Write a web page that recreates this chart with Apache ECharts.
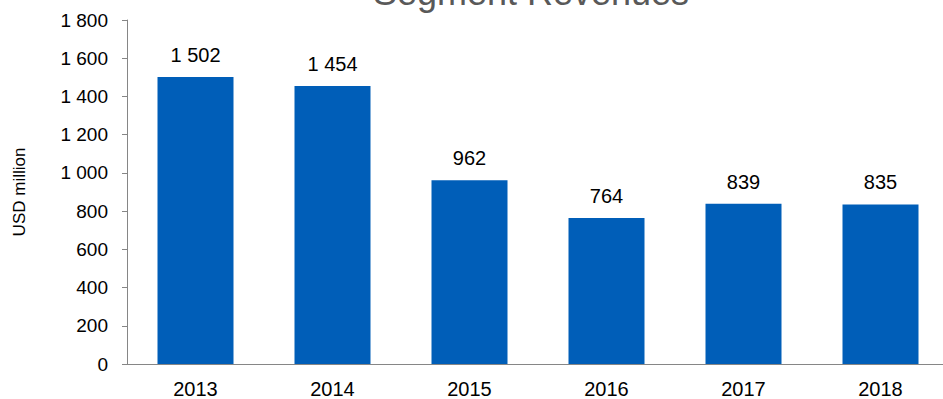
<!DOCTYPE html>
<html>
<head>
<meta charset="utf-8">
<title>Segment Revenues</title>
<script src="https://cdn.jsdelivr.net/npm/echarts@6/dist/echarts.min.js"></script>
<style>
  html, body { margin: 0; padding: 0; background: #ffffff; overflow: hidden; }
  /* canvas is a bit wider than the window so the last bar's band runs off the edge */
  #chart { width: 952px; height: 399px; }
</style>
</head>
<body>
<div id="chart"></div>
<script>
// Yearly segment revenues, USD million
const years = ['2013', '2014', '2015', '2016', '2017', '2018'];
const revenues = [1502, 1454, 962, 764, 839, 835];
const yTicks = { min: 0, max: 1800, step: 200 };

// thousands grouped with a space: 1 502
function fmt(v) {
  return String(v).replace(/\B(?=(\d{3})+(?!\d))/g, ' ');
}

const FONT = 'Liberation Sans, Arial, sans-serif';
const chart = echarts.init(document.getElementById('chart'), null, { renderer: 'svg' });

chart.setOption({
  animation: false,
  backgroundColor: '#ffffff',
  graphic: [{
    type: 'text',
    x: 531,
    y: 10,
    style: {
      text: 'Segment Revenues',
      fontFamily: FONT,
      fontSize: 36,
      fill: '#595959',
      textAlign: 'center',
      textVerticalAlign: 'bottom'
    }
  }],
  grid: { left: 127, width: 822, top: 20, height: 346 },
  xAxis: {
    type: 'category',
    data: years,
    axisLine: { lineStyle: { color: '#868686', width: 1 } },
    axisTick: { show: false },
    axisLabel: { color: '#000000', fontFamily: FONT, fontSize: 20, margin: 15 }
  },
  yAxis: {
    type: 'value',
    min: yTicks.min,
    max: yTicks.max,
    interval: yTicks.step,
    name: 'USD million',
    nameLocation: 'middle',
    nameRotate: 90,
    nameGap: 99,
    nameTextStyle: { color: '#000000', fontFamily: FONT, fontSize: 17 },
    axisLine: { show: true, lineStyle: { color: '#868686', width: 1 } },
    axisTick: { show: true, length: 5, lineStyle: { color: '#868686' } },
    splitLine: { show: false },
    axisLabel: {
      color: '#000000',
      fontFamily: FONT,
      fontSize: 19,
      margin: 19,
      formatter: fmt
    }
  },
  series: [{
    type: 'bar',
    data: revenues,
    barWidth: 76,
    itemStyle: { color: '#005EB8' },
    label: {
      show: true,
      position: 'top',
      distance: 12,
      color: '#000000',
      fontFamily: FONT,
      fontSize: 20,
      formatter: p => fmt(p.value)
    }
  }]
});
</script>
</body>
</html>
